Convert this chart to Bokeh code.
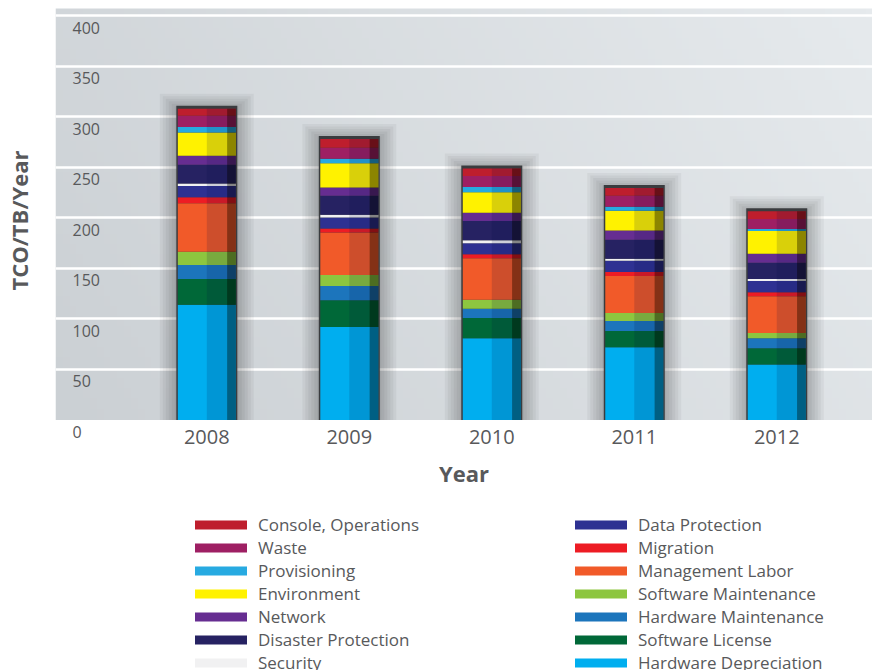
import numpy as np
from bokeh.plotting import figure
from bokeh.layouts import column
from bokeh.models import (ColumnDataSource, FixedTicker, LabelSet, Legend,
                          LegendItem, Range1d)
from bokeh.core.properties import value
from bokeh.embed import file_html
from bokeh.resources import INLINE

# ---------------- data ----------------
years = [2008, 2009, 2010, 2011, 2012]

hardware_depreciation = [114, 92, 81, 72, 55]
software_license = [25.5, 26.5, 20, 16, 16]
hardware_maintenance = [14, 14, 9, 10, 10]
software_maintenance = [13, 11, 9, 8, 5]
management_labor = [48, 42, 41, 36.5, 36.5]
migration = [6, 4, 4, 4, 4]
data_protection = [11, 11, 11, 11, 11]
security = [2.5, 2.5, 3, 2, 2]
disaster_protection = [18.5, 19, 19, 19, 16]
network = [9, 8, 8, 9, 9]
environment = [23, 24, 20.5, 19.5, 22.5]
provisioning = [5.5, 4.5, 5, 4, 2]
waste = [11, 11, 11, 11, 10]
console_operations = [7, 8.5, 7.5, 7.5, 7.5]

y_ticks = [0, 50, 100, 150, 200, 250, 300, 350, 400]
y_tick_labels = [str(t) for t in y_ticks]

# bottom -> top stacking order
series = [
    ("Hardware Depreciation", hardware_depreciation, "#00aeef"),
    ("Software License", software_license, "#006838"),
    ("Hardware Maintenance", hardware_maintenance, "#1c75bc"),
    ("Software Maintenance", software_maintenance, "#8dc63f"),
    ("Management Labor", management_labor, "#f15a29"),
    ("Migration", migration, "#ed1c24"),
    ("Data Protection", data_protection, "#2e3192"),
    ("Security", security, "#f1f1f2"),
    ("Disaster Protection", disaster_protection, "#262262"),
    ("Network", network, "#662d91"),
    ("Environment", environment, "#fff200"),
    ("Provisioning", provisioning, "#27aae1"),
    ("Waste", waste, "#9e1f63"),
    ("Console, Operations", console_operations, "#be1e2d"),
]

# ---------------- main chart ----------------
FONT = "Open Sans"
TXT = "#58595b"
X0, X1 = 2006.938, 2012.672
PPU = 1.0105                      # pixels per value unit
Y0, Y1 = -20.5 / PPU, 419.5 / PPU  # frame spans 0..440 px, value 0 at 419.5 px
BG_TOP = 407.2                    # top edge of the grey plot panel

p = figure(width=872, height=510, output_backend="svg", toolbar_location=None,
           x_range=Range1d(X0, X1), y_range=Range1d(Y0, Y1),
           min_border_left=55, min_border_right=0, min_border_top=0,
           min_border_bottom=70,
           background_fill_color="white", border_fill_color="white",
           outline_line_color=None)

px_x = (X1 - X0) / 817.0      # data units per pixel horizontally
px_y = 1.0 / PPU              # data units per pixel vertically
bar_w = 58 * px_x

# grey plot panel with a subtle diagonal gradient
gx = np.linspace(0, 1, 120)[None, :]
gy = np.linspace(0, 1, 40)[:, None]
t = np.clip(0.75 * gx + 0.25 * gy, 0, 1)
r = (203 + (230 - 203) * t).astype(np.uint32)
g = (208 + (234 - 208) * t).astype(np.uint32)
b = (212 + (237 - 212) * t).astype(np.uint32)
img = (255 << 24) | (b << 16) | (g << 8) | r
p.image_rgba(image=[img.astype(np.uint32)], x=X0, y=0, dw=X1 - X0, dh=BG_TOP,
             level="image")

names = [s[0] for s in series]
colors = [s[2] for s in series]
data = {"x": years}
for name, vals, _ in series:
    data[name] = vals
source = ColumnDataSource(data)
totals = [sum(s[1][i] for s in series) for i in range(len(years))]

# soft shadow halo behind bars
for k in range(6, 0, -1):
    p.vbar(x=years, bottom=0, top=[tt + k * 2.5 * px_y for tt in totals],
           width=bar_w + k * 6 * px_x, fill_color="black", fill_alpha=0.045,
           line_color=None)
# dark rim
p.vbar(x=years, bottom=0, top=[tt + 3 * px_y for tt in totals],
       width=bar_w + 3 * px_x, fill_color="#3a3c3f", line_color=None)

p.vbar_stack(names, x="x", width=bar_w, color=colors, line_color=None,
             source=source)

# cylinder shading overlays
p.vbar(x=[y + 0.175 * bar_w for y in years], bottom=0, top=totals,
       width=0.35 * bar_w, fill_color="#001040", fill_alpha=0.15, line_color=None)
p.vbar(x=[y + 0.425 * bar_w for y in years], bottom=0, top=totals,
       width=0.15 * bar_w, fill_color="black", fill_alpha=0.45, line_color=None)

# grid
p.xgrid.visible = False
p.ygrid.ticker = FixedTicker(ticks=y_ticks[1:])
p.ygrid.grid_line_color = "white"
p.ygrid.grid_line_width = 2.5
p.ygrid.level = "underlay"

# x axis
xa = p.xaxis[0]
xa.ticker = FixedTicker(ticks=years)
xa.axis_line_color = None
xa.major_tick_line_color = None
xa.minor_tick_line_color = None
xa.major_tick_out = 0
xa.major_label_standoff = -11
xa.major_label_text_font = FONT
xa.major_label_text_font_size = "20px"
xa.major_label_text_color = TXT
xa.axis_label = "Year"
xa.axis_label_text_font = FONT
xa.axis_label_text_font_size = "22px"
xa.axis_label_text_font_style = "bold"
xa.axis_label_text_color = TXT
xa.axis_label_standoff = 11

# y axis title (tick labels are drawn inside the panel, below each grid line)
ya = p.yaxis[0]
ya.ticker = FixedTicker(ticks=[])
ya.axis_line_color = None
ya.major_tick_line_color = None
ya.minor_tick_line_color = None
ya.axis_label = "TCO/TB/Year"
ya.axis_label_text_font = FONT
ya.axis_label_text_font_size = "22px"
ya.axis_label_text_font_style = "bold"
ya.axis_label_text_color = TXT
ya.axis_label_standoff = 22

tick_src = ColumnDataSource(dict(x=[X0] * len(y_ticks), y=y_ticks,
                                 text=y_tick_labels))
p.add_layout(LabelSet(x="x", y="y", text="text", source=tick_src,
                      x_offset=17, y_offset=-12, text_baseline="middle",
                      text_font=value(FONT), text_font_size="16px",
                      text_color=TXT))

# ---------------- legend strip ----------------
lg = figure(width=872, height=160, output_backend="svg", toolbar_location=None,
            x_range=Range1d(0, 1), y_range=Range1d(0, 1), min_border=0,
            outline_line_color=None, background_fill_color="white",
            border_fill_color="white")
lg.axis.visible = False
lg.grid.visible = False
# same stacked series (outside this strip's view) to supply the legend swatches
swatches = lg.vbar_stack(names, x="x", width=bar_w, color=colors,
                         line_color=None, source=source)

items = [LegendItem(label=n, renderers=[rr])
         for n, rr in reversed(list(zip(names, swatches)))]
legend = Legend(items=items, ncols=2, location=(133, -4),
                glyph_width=65, glyph_height=11, label_standoff=5,
                label_width=310, label_height=20, spacing=0, padding=0,
                margin=0, border_line_color=None, background_fill_alpha=0,
                label_text_font=FONT, label_text_font_size="17px",
                label_text_color=TXT)
lg.add_layout(legend)

layout = column(p, lg, spacing=0)
open("out.html", "w").write(file_html(layout, INLINE))
